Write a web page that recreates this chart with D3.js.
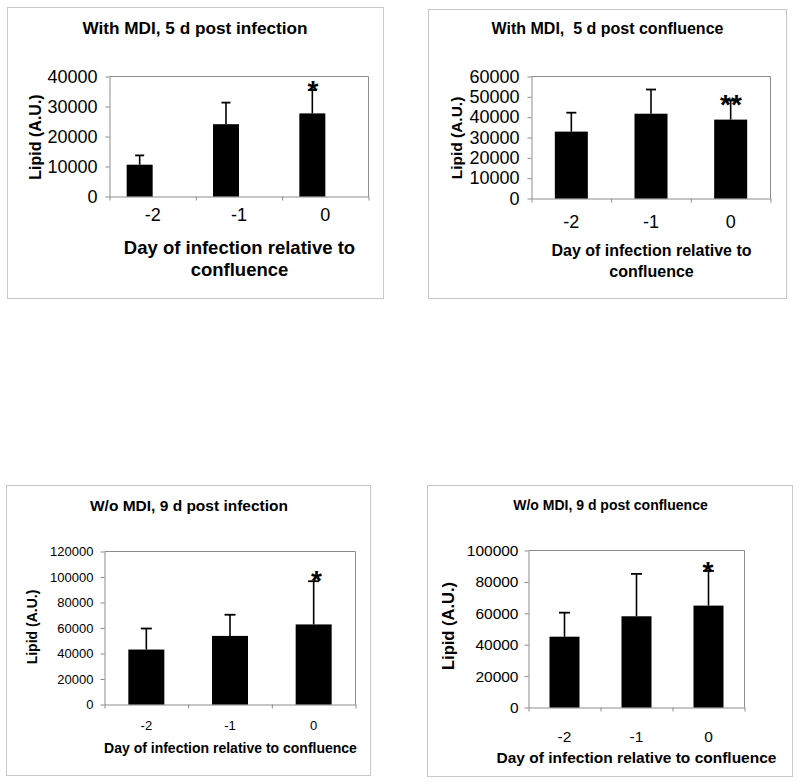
<!DOCTYPE html>
<html>
<head>
<meta charset="utf-8">
<script src="https://cdn.jsdelivr.net/npm/d3@7"></script>
<style>
  html, body { margin: 0; padding: 0; background: #fff; }
  svg { display: block; font-family: "Liberation Sans", Arial, Helvetica, sans-serif; }
  text { white-space: pre; }
</style>
</head>
<body>
<svg id="chart" width="800" height="784"></svg>
<script>
// ---------------- DATA ----------------
const categories = ["-2", "-1", "0"];

const titles = [
  "With MDI, 5 d post infection",
  "With MDI,  5 d post confluence",
  "W/o MDI, 9 d post infection",
  "W/o MDI, 9 d post confluence"
];

const yLabel = "Lipid (A.U.)";
const xLabelLines = [
  ["Day of infection relative to", "confluence"],
  ["Day of infection relative to", "confluence"],
  ["Day of infection relative to confluence"],
  ["Day of infection relative to confluence"]
];

// mean lipid values (A.U.)
const meansA = [10600, 24100, 27700];
const meansB = [32900, 41700, 38800];
const meansC = [43100, 53800, 62800];
const meansD = [45100, 58100, 64900];

// upper error (SD) magnitudes
const errA = [3100, 7200, 7800];
const errB = [9300, 11900, 9400];
const errC = [16500, 16600, 33900];
const errD = [15300, 27000, 22100];

// significance marks
const sigA = ["", "", "*"];
const sigB = ["", "", "**"];
const sigC = ["", "", "*"];
const sigD = ["", "", "*"];

// y-axis ticks
const yTicksA = [0, 10000, 20000, 30000, 40000];
const yTicksB = [0, 10000, 20000, 30000, 40000, 50000, 60000];
const yTicksC = [0, 20000, 40000, 60000, 80000, 100000, 120000];
const yTicksD = [0, 20000, 40000, 60000, 80000, 100000];

// ---------------- LAYOUT ----------------
const panels = [
  { means: meansA, err: errA, sig: sigA, yTicks: yTicksA,
    box: [7.5, 7.5, 383.5, 298.5],
    plot: [109.5, 76.5, 368.5, 196.5],
    barW: 26, barAlign: "left", capW: 9,
    title: [195, 33.5, 17.2], yl: [35, 137, 16], tickFs: 18, yPad: 8,
    xTickBase: 220.5, xl: [239.5, [254, 275.5], 18.5], star: [313, 84, 28] },
  { means: meansB, err: errB, sig: sigB, yTicks: yTicksB,
    box: [428.5, 9.5, 786.5, 298.5],
    plot: [531.5, 76.5, 770.5, 198.5],
    barW: 33, barAlign: "center", capW: 10,
    title: [607.5, 34, 16], yl: [456.5, 138, 15.5], tickFs: 18, yPad: 8,
    xTickBase: 228, xl: [651.5, [256, 277], 16], star: [731, 98, 28] },
  { means: meansC, err: errC, sig: sigC, yTicks: yTicksC,
    box: [6.5, 485.5, 370.5, 775.5],
    plot: [104.5, 551.5, 355.5, 704.5],
    barW: 36, barAlign: "center", capW: 11,
    title: [189, 510.5, 15.5], yl: [32, 627, 14], tickFs: 13, yPad: 7,
    xTickBase: 730, xl: [230.5, [752.5], 14], star: [316.5, 574.5, 28] },
  { means: meansD, err: errD, sig: sigD, yTicks: yTicksD,
    box: [427.5, 485.5, 792.5, 776.5],
    plot: [528.5, 550.5, 744.5, 707.5],
    barW: 30, barAlign: "center", capW: 11,
    title: [610.5, 510, 14], yl: [448.5, 626, 16.5], tickFs: 15.5, yPad: 6,
    xTickBase: 742, xl: [636.5, [762.5], 15.5], star: [708, 565, 28] }
];

const svg = d3.select("#chart");
const axisGray = "#8c8c8c";

panels.forEach((p, i) => {
  const g = svg.append("g");
  const [bx0, by0, bx1, by1] = p.box;
  const [L, T, R, B] = p.plot;

  // outer frame
  g.append("rect")
    .attr("x", bx0).attr("y", by0)
    .attr("width", bx1 - bx0).attr("height", by1 - by0)
    .attr("fill", "#fff").attr("stroke", "#c8c8c8").attr("stroke-width", 1);

  // title
  g.append("text")
    .attr("x", p.title[0]).attr("y", p.title[1])
    .attr("text-anchor", "middle")
    .attr("font-weight", "bold").attr("font-size", p.title[2])
    .attr("fill", "#000")
    .text(titles[i]);

  const x = d3.scaleBand().domain(categories).range([L, R]).paddingInner(0).paddingOuter(0);
  const xb = d3.scaleLinear().domain([0, categories.length]).range([L, R]);
  const ymax = p.yTicks[p.yTicks.length - 1];
  const y = d3.scaleLinear().domain([0, ymax]).range([B, T]);

  // plot border (top & right)
  g.append("path")
    .attr("d", `M${L},${T}H${R}V${B}`)
    .attr("fill", "none").attr("stroke", axisGray).attr("stroke-width", 1);

  // y axis
  const yAxis = g.append("g")
    .attr("transform", `translate(${L},0)`)
    .call(d3.axisLeft(y).tickValues(p.yTicks).tickSize(4).tickSizeOuter(0)
      .tickPadding(p.yPad).tickFormat(d3.format("d")));
  yAxis.select(".domain").attr("stroke", axisGray);
  yAxis.selectAll(".tick line").attr("stroke", axisGray);
  yAxis.selectAll(".tick text")
    .attr("font-size", p.tickFs).attr("fill", "#000")
    .attr("font-family", "'Liberation Sans', Arial, sans-serif");

  // x axis: boundary ticks
  const xAxisB = g.append("g")
    .attr("transform", `translate(0,${B})`)
    .call(d3.axisBottom(xb).tickValues(d3.range(categories.length + 1))
      .tickSize(4).tickSizeOuter(0).tickFormat(""));
  xAxisB.select(".domain").attr("stroke", axisGray);
  xAxisB.selectAll(".tick line").attr("stroke", axisGray);

  // x axis: category labels at band centers
  const pad = p.xTickBase - B - 0.71 * p.tickFs;
  const xAxisL = g.append("g")
    .attr("transform", `translate(0,${B})`)
    .call(d3.axisBottom(x).tickSize(0).tickPadding(pad));
  xAxisL.select(".domain").remove();
  xAxisL.selectAll(".tick text")
    .attr("font-size", p.tickFs).attr("fill", "#000")
    .attr("font-family", "'Liberation Sans', Arial, sans-serif");

  const barX = c => p.barAlign === "left"
    ? x(c) + x.bandwidth() / 2 - p.barW
    : x(c) + x.bandwidth() / 2 - p.barW / 2;
  const barC = c => barX(c) + p.barW / 2;

  // error bars (upper only, drawn behind bars)
  const eg = g.append("g");
  categories.forEach((c, j) => {
    const top = y(p.means[j] + p.err[j]);
    eg.append("line")
      .attr("x1", barC(c)).attr("x2", barC(c))
      .attr("y1", y(p.means[j])).attr("y2", top)
      .attr("stroke", "#000").attr("stroke-width", 1.6);
    eg.append("line")
      .attr("x1", barC(c) - p.capW / 2).attr("x2", barC(c) + p.capW / 2)
      .attr("y1", top).attr("y2", top)
      .attr("stroke", "#000").attr("stroke-width", 1.8);
  });

  // bars
  g.append("g").selectAll("rect")
    .data(categories)
    .join("rect")
    .attr("x", c => barX(c))
    .attr("width", p.barW)
    .attr("y", (c, j) => y(p.means[j]))
    .attr("height", (c, j) => B - y(p.means[j]))
    .attr("fill", "#000");

  // significance marks
  categories.forEach((c, j) => {
    if (!p.sig[j]) return;
    g.append("text")
      .attr("x", p.star[0]).attr("y", p.star[1] + 0.56 * p.star[2])
      .attr("text-anchor", "middle")
      .attr("font-weight", "bold").attr("font-size", p.star[2])
      .attr("fill", "#000")
      .text(p.sig[j]);
  });

  // y label
  g.append("text")
    .attr("transform", `translate(${p.yl[0]},${p.yl[1]}) rotate(-90)`)
    .attr("text-anchor", "middle").attr("dy", "0.35em")
    .attr("font-weight", "bold").attr("font-size", p.yl[2])
    .attr("fill", "#000")
    .text(yLabel);

  // x label
  xLabelLines[i].forEach((line, k) => {
    g.append("text")
      .attr("x", p.xl[0]).attr("y", p.xl[1][k])
      .attr("text-anchor", "middle")
      .attr("font-weight", "bold").attr("font-size", p.xl[2])
      .attr("fill", "#000")
      .text(line);
  });
});
</script>
</body>
</html>
